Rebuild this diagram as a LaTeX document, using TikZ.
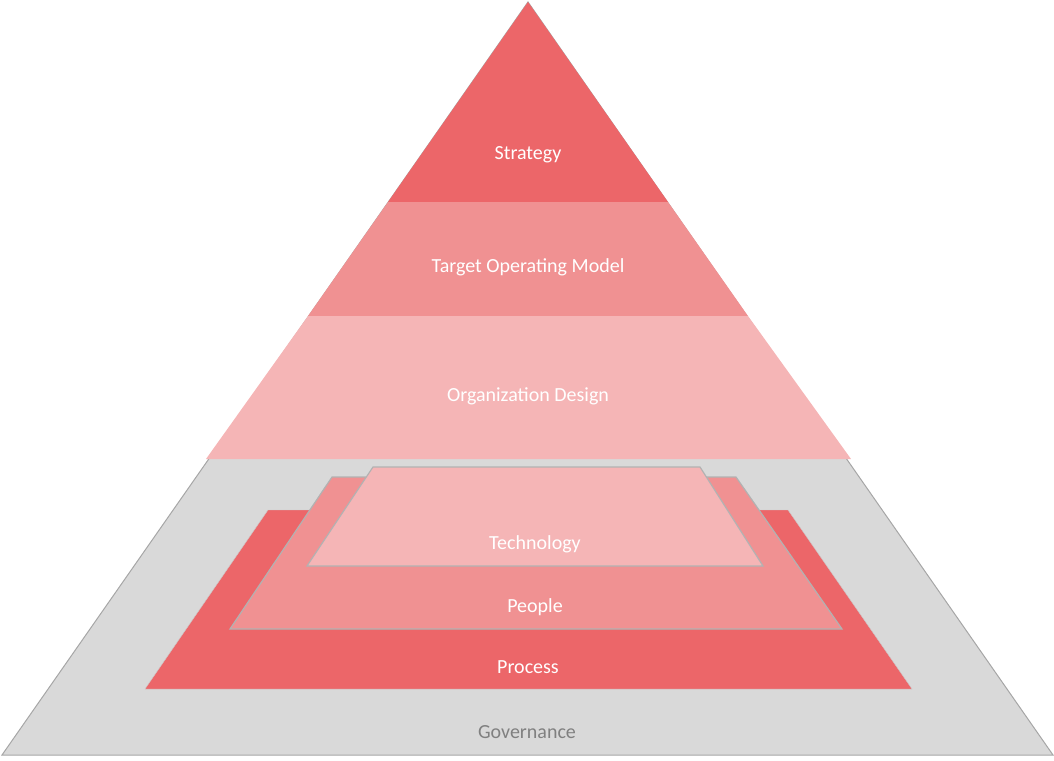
\documentclass[tikz,border=0pt]{standalone}
\usepackage{fontspec}
\setmainfont{Carlito}
\begin{document}
\begin{tikzpicture}[x=1pt,y=-1pt,
  lbl/.style={text=white,font=\fontsize{20}{24}\selectfont},
  edge/.style={draw=gray!60,line width=1.2pt}]
\useasboundingbox (0,0) rectangle (1054,760);
\definecolor{cA}{HTML}{EC6669}
\definecolor{cB}{HTML}{F09192}
\definecolor{cC}{HTML}{F5B5B6}
\definecolor{cG}{HTML}{D9D9D9}
\fill[cG,draw=gray!70,line width=1pt] (528,2) -- (1053,755) -- (2,755) -- cycle;
\fill[cA] (528,2) -- (668,202) -- (388,202) -- cycle;
\fill[cB] (388,202) -- (668,202) -- (748,316) -- (308,316) -- cycle;
\fill[cC] (308,316) -- (748,316) -- (851,459) -- (206,459) -- cycle;
\fill[cA,draw=gray!40] (268,510) -- (788,510) -- (912,689) -- (145,689) -- cycle;
\fill[cB,edge] (332,477) -- (736,477) -- (842,629) -- (230,629) -- cycle;
\fill[cC,edge] (373,467) -- (700,467) -- (763,566) -- (307,566) -- cycle;
\node[lbl] (s) at (528,155) {Strategy};
\node[lbl] (t) at (528,267) {Target Operating Model};
\node[lbl] (o) at (528,396) {Organization Design};
\node[lbl] (te) at (535,544) {Technology};
\node[lbl] (pe) at (535,607) {People};
\node[lbl] (pr) at (528,667) {Process};
\node[lbl,text=gray] (g) at (527,732) {Governance};
\end{tikzpicture}
\end{document}
